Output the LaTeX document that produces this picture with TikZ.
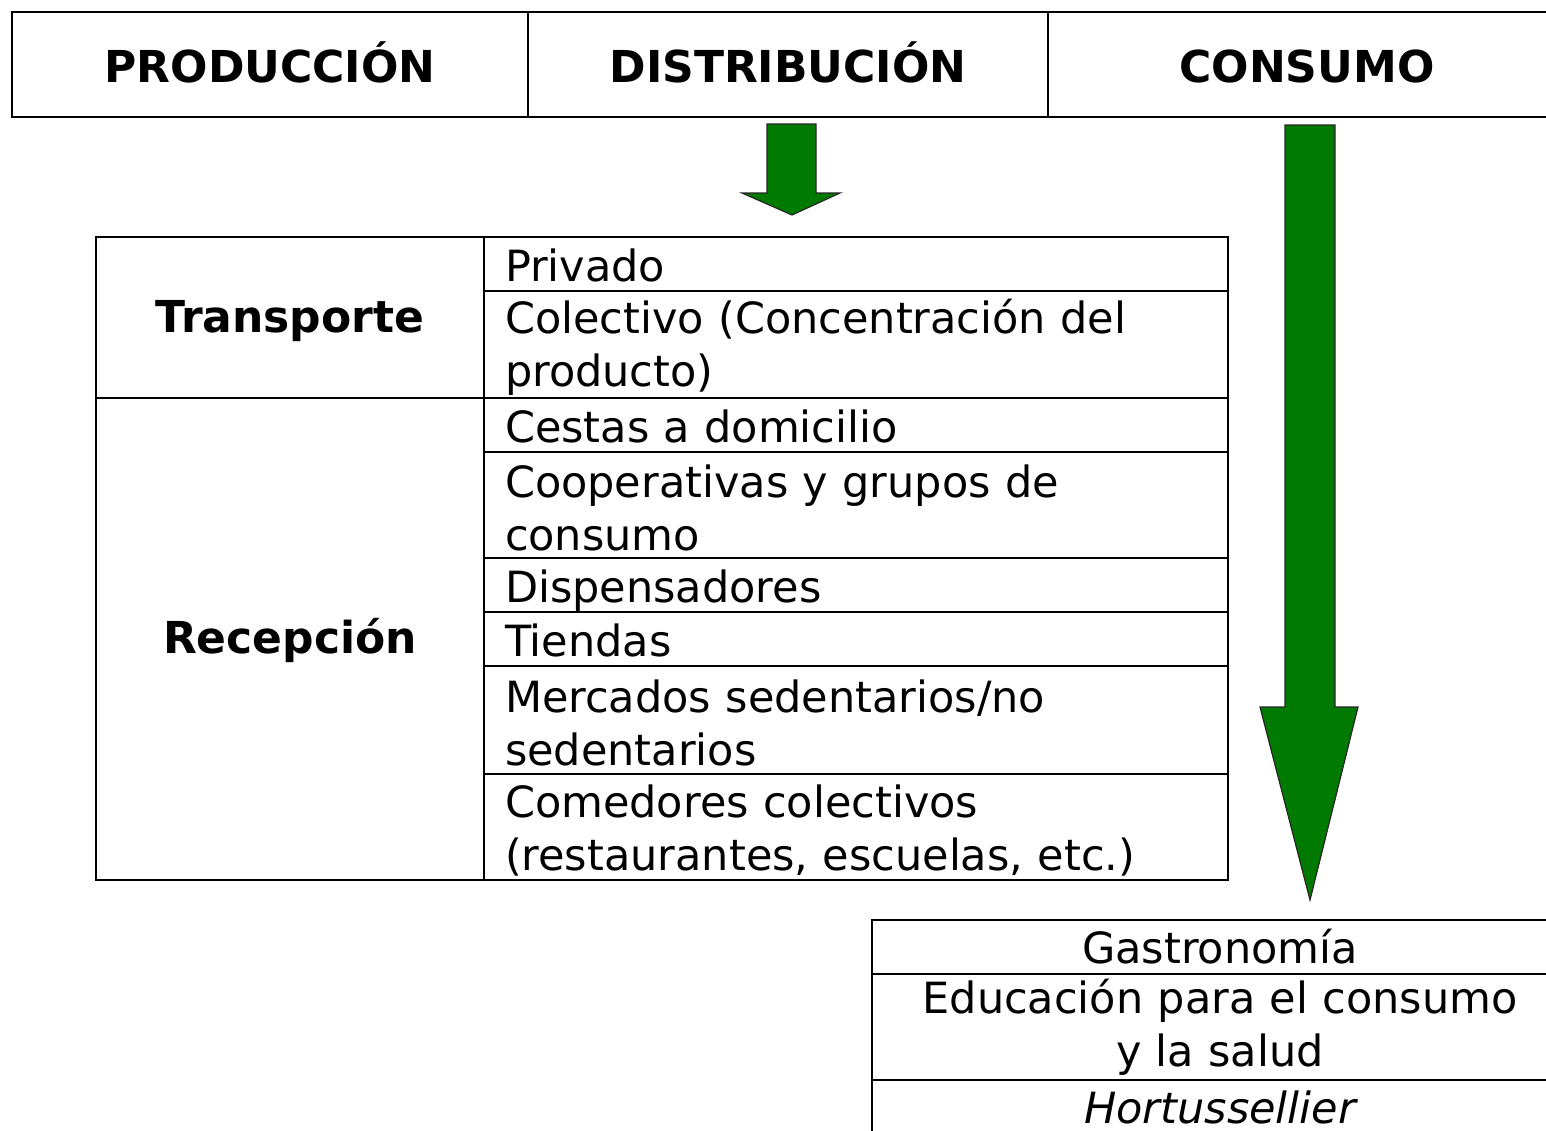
\documentclass[tikz,border=0pt]{standalone}
\usepackage{fontspec}
\setmainfont{DejaVu Sans}
\usepackage{xcolor}
\usepackage{tikz}
\usetikzlibrary{positioning}
\definecolor{arrowgreen}{RGB}{0,122,0}

\begin{document}
\begin{tikzpicture}[
        x=0.5pt, y=-0.5pt, node distance=0pt,
        font=\fontsize{21.5}{26.5}\selectfont,
        headcell/.style={rectangle, draw, line width=1pt, outer sep=0pt, minimum width=259pt, minimum height=52.5pt, text height=18pt, text depth=0.5pt, font=\fontsize{22}{26.5}\selectfont\bfseries},
        groupcell/.style={rectangle, draw, line width=1pt, outer sep=0pt, minimum width=194pt, text height=16pt, text depth=1.5pt, font=\fontsize{22}{26.5}\selectfont\bfseries},
        cellbase/.style={rectangle, draw, line width=1pt, outer sep=0pt, inner ysep=0pt},
        rowcell/.style={cellbase, text width=351pt, inner xsep=10.5pt, align=left, minimum height=27pt, text height=17.5pt, text depth=0.5pt},
        tallcell/.style={cellbase, text width=351pt, inner xsep=10.5pt, minimum height=53.5pt},
        talltext/.style={align=left, text width=351pt, inner xsep=10.5pt, yshift=-1.5pt},
        usecell/.style={cellbase, text width=348pt, inner xsep=0pt, align=center, minimum height=27pt},
        blockarrow/.style={fill=arrowgreen, draw=black!85, line width=0.6pt}
    ]
        \useasboundingbox (0,0) rectangle (1546,1130);
        \clip (0,0) rectangle (1546,1130);
        \node[headcell, anchor=north west, minimum width=258pt] (prod) at (12,12) {PRODUCCIÓN};
        \node[headcell, right=of prod, minimum width=260pt] (dist) {DISTRIBUCIÓN};
        \node[headcell, right=of dist] (cons) {CONSUMO};

        \node[rowcell, anchor=north west] (privado) at (484,237) {Privado};
        \node[tallcell, below=of privado] (colectivo) {};
        \node[talltext] (colectivotxt) at (colectivo) {Colectivo (Concentración del\\producto)};
        \node[rowcell, below=of colectivo] (cestas) {Cestas a domicilio};
        \node[tallcell, below=of cestas, minimum height=53pt] (coop) {};
        \node[talltext] (cooptxt) at (coop) {Cooperativas y grupos de\\consumo};
        \node[rowcell, below=of coop] (dispens) {Dispensadores};
        \node[rowcell, below=of dispens] (tiendas) {Tiendas};
        \node[tallcell, below=of tiendas, minimum height=54pt] (mercados) {};
        \node[talltext] (mercadostxt) at (mercados) {Mercados sedentarios/no\\sedentarios};
        \node[tallcell, below=of mercados, minimum height=53pt] (comedores) {};
        \node[talltext] (comedorestxt) at (comedores) {Comedores colectivos\\(restaurantes, escuelas, etc.)};
        \node[groupcell, anchor=north east, minimum height=80.5pt] (transporte) at (privado.north west) {Transporte};
        \node[groupcell, below=of transporte, minimum height=241pt] (recepcion) {Recepción};

        \node[usecell, anchor=north west] (gastro) at (872,920) {Gastronomía};
        \node[usecell, below=of gastro, minimum height=53pt] (educacion) {Educación para el consumo\\y la salud};
        \node[usecell, below=of educacion, text height=16pt, text depth=0pt] (hortus) {\itshape Hortussellier};

        \draw[blockarrow] (767,124) -- (816,124) -- (816,193) -- (840,193) -- (792,215) -- (742,193) -- (767,193) -- cycle;
        \draw[blockarrow] (1285,125) -- (1335,125) -- (1335,707) -- (1358,707) -- (1310,900) -- (1260,707) -- (1285,707) -- cycle;
    \end{tikzpicture}
\end{document}
